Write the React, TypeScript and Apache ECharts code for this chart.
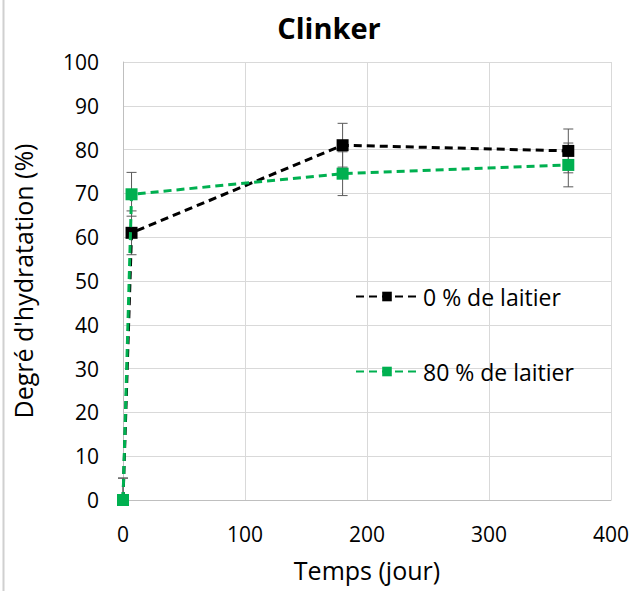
import React, { useEffect, useRef } from "react";
import * as echarts from "echarts";

const days = [0, 7, 180, 365];
const slag0 = [0, 61, 81, 79.7];
const slag80 = [0, 69.8, 74.5, 76.5];
const err0 = [5, 5, 5, 5];
const err80 = [5, 5, 5, 5];
const seriesNames = ["0 % de laitier", "80 % de laitier"];
const xTicks = [0, 100, 200, 300, 400];
const yTicks = [0, 10, 20, 30, 40, 50, 60, 70, 80, 90, 100];

const FONT = "'Open Sans', 'Noto Sans', sans-serif";

function errSeries(name: string, vals: number[], errs: number[]) {
  return {
    type: "custom",
    name,
    z: 1,
    data: days.map((d, i) => [d, vals[i] - errs[i], vals[i] + errs[i]]),
    renderItem: (_p: any, api: any) => {
      const x = api.value(0);
      const loV = Math.max(0, api.value(1));
      const hiV = Math.min(100, api.value(2));
      const lo = api.coord([x, loV]);
      const hi = api.coord([x, hiV]);
      const half = 5;
      const st = { stroke: "#595959", lineWidth: 1 };
      const children: any[] = [
        { type: "line", shape: { x1: lo[0], y1: lo[1], x2: hi[0], y2: hi[1] }, style: st },
      ];
      if (api.value(2) <= 100)
        children.push({ type: "line", shape: { x1: hi[0] - half, y1: hi[1], x2: hi[0] + half, y2: hi[1] }, style: st });
      if (api.value(1) >= 0)
        children.push({ type: "line", shape: { x1: lo[0] - half, y1: lo[1], x2: lo[0] + half, y2: lo[1] }, style: st });
      return { type: "group", children };
    },
  };
}

export default function App() {
  const ref = useRef<HTMLDivElement>(null);
  useEffect(() => {
    if (!ref.current) return;
    const chart = echarts.init(ref.current, null, { renderer: "svg" });
    chart.setOption({
      animation: false,
      backgroundColor: "#fff",
      title: {
        text: "Clinker",
        left: 324,
        top: 8,
        textAlign: "center",
        textStyle: { fontFamily: FONT, fontSize: 29, fontWeight: "bold", color: "#000" },
      },
      graphic: [
        { type: "line", shape: { x1: 3.5, y1: 0, x2: 3.5, y2: 591 }, style: { stroke: "#d0d0d0", lineWidth: 2 } },
      ],
      legend: {
        orient: "vertical",
        left: 350,
        top: 280,
        itemGap: 52,
        itemWidth: 62,
        itemHeight: 12,
        data: seriesNames,
        textStyle: { fontFamily: FONT, fontSize: 23, color: "#000", padding: [0, 0, 0, 0] },
      },
      grid: { left: 123, right: 24, top: 62, bottom: 91, containLabel: false, outerBoundsMode: "none" },
      xAxis: {
        type: "value",
        min: xTicks[0],
        max: xTicks[xTicks.length - 1],
        interval: 100,
        name: "Temps (jour)",
        nameLocation: "middle",
        nameGap: 57,
        nameTextStyle: { fontFamily: FONT, fontSize: 25, color: "#000" },
        axisLine: { show: true, lineStyle: { color: "#bfbfbf" } },
        axisTick: { show: false },
        axisLabel: { fontFamily: FONT, fontSize: 21, color: "#000", margin: 23 },
        splitLine: { show: true, lineStyle: { color: "#d9d9d9" } },
      },
      yAxis: {
        type: "value",
        min: yTicks[0],
        max: yTicks[yTicks.length - 1],
        interval: 10,
        name: "Degré d'hydratation (%)",
        nameLocation: "middle",
        nameGap: 88,
        nameTextStyle: { fontFamily: FONT, fontSize: 25, color: "#000" },
        axisLine: { show: true, lineStyle: { color: "#bfbfbf" } },
        axisTick: { show: false },
        axisLabel: { fontFamily: FONT, fontSize: 21, color: "#000", margin: 24 },
        splitLine: { show: true, lineStyle: { color: "#d9d9d9" } },
      },
      series: [
        errSeries("err0", slag0, err0),
        errSeries("err80", slag80, err80),
        {
          type: "line",
          name: seriesNames[0],
          z: 3,
          data: days.map((d, i) => [d, slag0[i]]),
          symbol: "rect",
          symbolSize: 12,
          itemStyle: { color: "#000" },
          lineStyle: { color: "#000", width: 3, type: [8, 5] },
        },
        {
          type: "line",
          name: seriesNames[1],
          z: 4,
          data: days.map((d, i) => [d, slag80[i]]),
          symbol: "rect",
          symbolSize: 12,
          itemStyle: { color: "#00b050" },
          lineStyle: { color: "#00b050", width: 3, type: [8, 5] },
        },
      ],
    });
    return () => chart.dispose();
  }, []);
  return <div ref={ref} style={{ position: "fixed", left: 0, top: 0, width: 635, height: 591 }} />;
}
